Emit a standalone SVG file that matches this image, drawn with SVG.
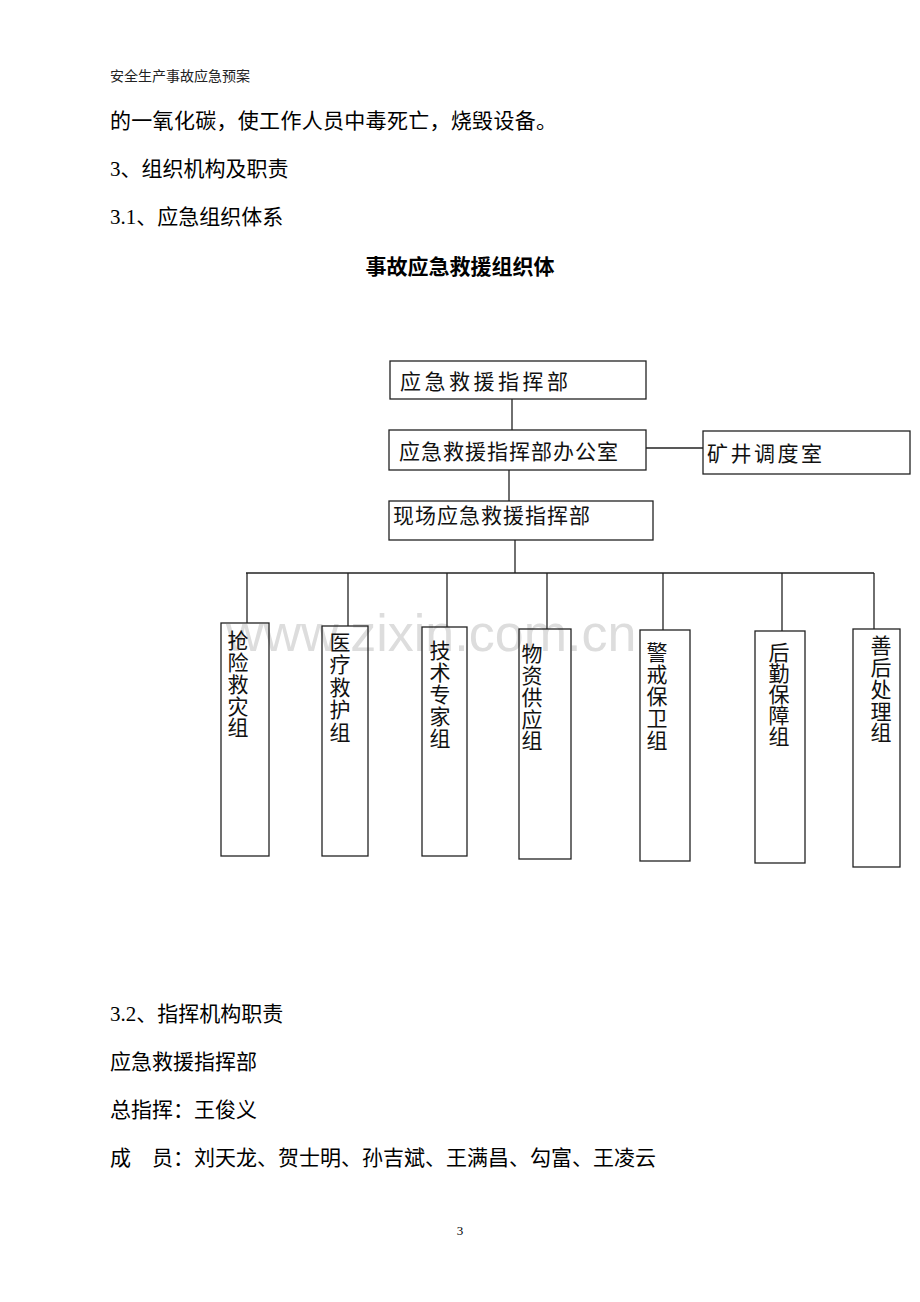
<svg xmlns="http://www.w3.org/2000/svg" width="920" height="1302" viewBox="0 0 920 1302">
<style>
.body{font-family:"Liberation Serif","Noto Sans CJK SC",serif;font-size:21px;fill:#000}
.hdr{font-family:"Liberation Serif","Noto Sans CJK SC",serif;font-size:14px;fill:#222}
.title{font-family:"Liberation Serif","Noto Sans CJK SC",serif;font-size:21px;font-weight:bold;fill:#000}
.box{fill:none;stroke:#222;stroke-width:1.3}
.lbl{font-family:"Noto Sans CJK SC",sans-serif;font-size:21px;fill:#111}
.vl{font-family:"Noto Sans CJK SC",sans-serif;font-size:21px;fill:#111;text-anchor:middle}
.conn{fill:none;stroke:#222;stroke-width:1.3}
.wm{font-family:"Liberation Sans",Arial,sans-serif;font-size:52px;fill:#dddddd}
</style>
<rect width="920" height="1302" fill="#fff"/>
<text class="hdr" x="110" y="81">安全生产事故应急预案</text>
<text class="body" x="110" y="128" letter-spacing="0.3">的一氧化碳，使工作人员中毒死亡，烧毁设备。</text>
<text class="body" x="110" y="176">3、组织机构及职责</text>
<text class="body" x="110" y="224">3.1、应急组织体系</text>
<text class="title" x="460" y="274" text-anchor="middle">事故应急救援组织体</text>
<text class="wm" x="226" y="651">www.zixin.com.cn</text>
<g id="connectors">
<path class="conn" d="M512 399V430"/>
<path class="conn" d="M646 448H703"/>
<path class="conn" d="M509 470V501"/>
<path class="conn" d="M515 540V573"/>
<path class="conn" d="M246 573H874"/>
<path class="conn" d="M247 573V623"/>
<path class="conn" d="M348 573V626"/>
<path class="conn" d="M447 573V627"/>
<path class="conn" d="M547 573V629"/>
<path class="conn" d="M663 573V630"/>
<path class="conn" d="M782 573V631"/>
<path class="conn" d="M874 573V629"/>
</g>
<g id="n1"><rect class="box" x="390" y="361" width="256" height="38"/><text class="lbl" x="400" y="389" letter-spacing="3.5">应急救援指挥部</text></g>
<g id="n2"><rect class="box" x="389" y="430" width="257" height="40"/><text class="lbl" x="399" y="459" letter-spacing="1">应急救援指挥部办公室</text></g>
<g id="n3"><rect class="box" x="703" y="431" width="207" height="43"/><text class="lbl" x="707" y="461" letter-spacing="2.5">矿井调度室</text></g>
<g id="n4"><rect class="box" x="389" y="501" width="264" height="39"/><text class="lbl" x="393" y="523" letter-spacing="1">现场应急救援指挥部</text></g>
<g id="g1"><rect class="box" x="221" y="623" width="48" height="233"/><text class="vl" x="238 238 238 238 238" y="648 670 692 714 735">抢险救灾组</text></g>
<g id="g2"><rect class="box" x="322" y="626" width="46" height="230"/><text class="vl" x="340 340 340 340 340" y="650 672 695 717 740">医疗救护组</text></g>
<g id="g3"><rect class="box" x="422" y="627" width="45" height="229"/><text class="vl" x="440 440 440 440 440" y="658 680 702 724 746">技术专家组</text></g>
<g id="g4"><rect class="box" x="519" y="629" width="52" height="230"/><text class="vl" x="532 532 532 532 532" y="661 683 705 727 748">物资供应组</text></g>
<g id="g5"><rect class="box" x="640" y="630" width="50" height="231"/><text class="vl" x="657 657 657 657 657" y="660 682 704 726 748">警戒保卫组</text></g>
<g id="g6"><rect class="box" x="755" y="631" width="50" height="232"/><text class="vl" x="779 779 779 779 779" y="660 681 702 723 744">后勤保障组</text></g>
<g id="g7"><rect class="box" x="853" y="629" width="47" height="238"/><text class="vl" x="881 881 881 881 881" y="653 675 697 719 740">善后处理组</text></g>
<text class="body" x="110" y="1021">3.2、指挥机构职责</text>
<text class="body" x="110" y="1069">应急救援指挥部</text>
<text class="body" x="110" y="1117">总指挥：王俊义</text>
<text class="body" x="110" y="1165">成　员：刘天龙、贺士明、孙吉斌、王满昌、勾富、王凌云</text>
<text class="hdr" x="460" y="1235" text-anchor="middle" style="font-size:13px;fill:#000">3</text>
</svg>
